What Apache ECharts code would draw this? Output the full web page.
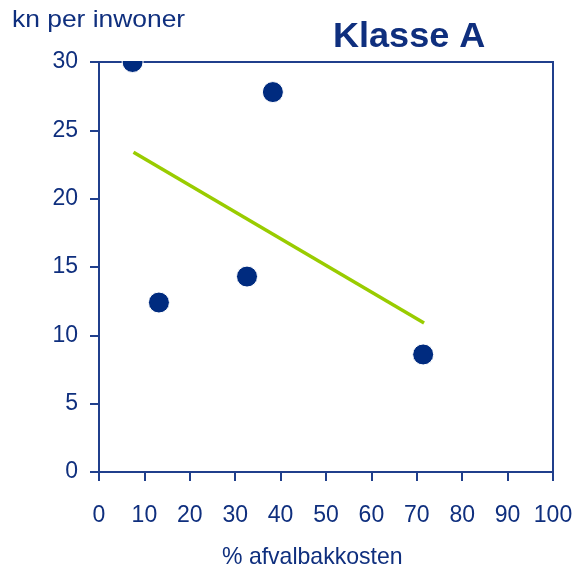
<!DOCTYPE html>
<html>
<head>
<meta charset="utf-8">
<script src="https://cdn.jsdelivr.net/npm/echarts@6/dist/echarts.min.js"></script>
<style>
  html, body { margin: 0; padding: 0; background: #fff; }
  #chart { width: 577px; height: 573px; }
</style>
</head>
<body>
<div id="chart"></div>
<script>
// Waste bin costs share vs. cost per inhabitant, class A
const xPct = [7.4, 13.2, 32.6, 38.3, 71.4];
const yKn = [30, 12.4, 14.3, 27.8, 8.6];
const trendX = [7.6, 71.6];
const trendY = [23.4, 10.9];
const titleText = 'Klasse A';
const xName = '% afvalbakkosten';
const yName = 'kn per inwoner';

const navy = '#0f2f7e';
const lineNavy = '#203f8c';
const dotNavy = '#002b7f';
const lime = '#99cc00';
const font = '"Liberation Sans", Arial, Helvetica, sans-serif';

const points = xPct.map((x, i) => [x, yKn[i]]);
const trend = trendX.map((x, i) => [x, trendY[i]]);

const chart = echarts.init(document.getElementById('chart'));
chart.setOption({
  animation: false,
  backgroundColor: '#fff',
  grid: {
    left: 99, top: 62, right: 24, bottom: 101,
    show: true, borderColor: lineNavy, borderWidth: 2, backgroundColor: 'transparent'
  },
  xAxis: {
    type: 'value', min: 0, max: 100, interval: 10,
    axisLine: { show: true, onZero: false, lineStyle: { color: lineNavy, width: 2 } },
    axisTick: { show: true, length: 9, lineStyle: { color: lineNavy, width: 2 } },
    axisLabel: { color: navy, fontSize: 23, fontFamily: font, margin: 32 },
    splitLine: { show: false }
  },
  yAxis: {
    type: 'value', min: 0, max: 30, interval: 5,
    axisLine: { show: true, onZero: false, lineStyle: { color: lineNavy, width: 2 } },
    axisTick: { show: true, length: 9, lineStyle: { color: lineNavy, width: 2 } },
    axisLabel: { color: navy, fontSize: 23, fontFamily: font, margin: 21 },
    splitLine: { show: false }
  },
  graphic: [
    {
      // hides the part of the top dot that rises above the plot frame
      type: 'rect', z: 50,
      shape: { x: 112, y: 44, width: 42, height: 17 },
      style: { fill: '#fff' }
    },
    {
      type: 'text', z: 60, x: 333, y: 37, scaleX: 1.03,
      style: { text: titleText, fill: navy, font: 'bold 35px ' + font, textAlign: 'left', verticalAlign: 'middle' }
    },
    {
      type: 'text', z: 60, x: 12, y: 20, scaleX: 1.1,
      style: { text: yName, fill: navy, font: '24px ' + font, textAlign: 'left', verticalAlign: 'middle' }
    },
    {
      type: 'text', z: 60, x: 222, y: 557, scaleX: 0.96,
      style: { text: xName, fill: navy, font: '24px ' + font, textAlign: 'left', verticalAlign: 'middle' }
    }
  ],
  series: [
    {
      type: 'line',
      data: trend,
      symbol: 'none',
      lineStyle: { color: lime, width: 3.5 },
      z: 3
    },
    {
      type: 'scatter',
      data: points,
      symbol: 'circle',
      symbolSize: 21,
      itemStyle: { color: dotNavy, borderColor: '#fff', borderWidth: 1, opacity: 1 },
      z: 4
    }
  ]
});
</script>
</body>
</html>
